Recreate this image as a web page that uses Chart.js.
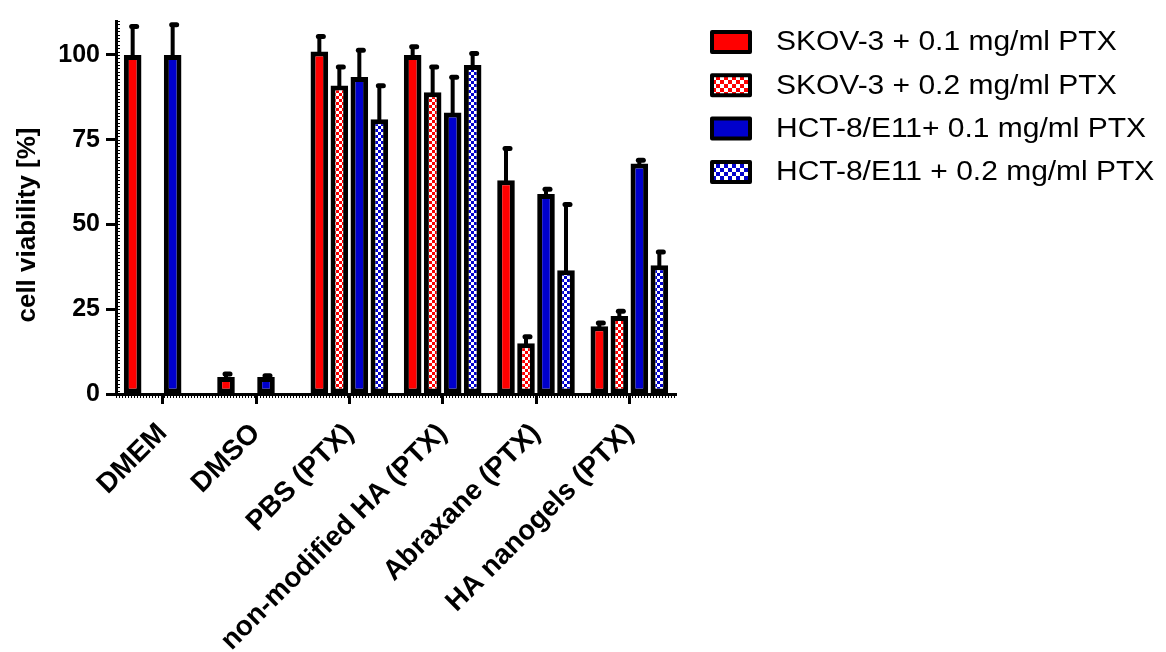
<!DOCTYPE html>
<html>
<head>
<meta charset="utf-8">
<title>Cell viability</title>
<script src="https://cdn.jsdelivr.net/npm/chart.js@4.4.0/dist/chart.umd.min.js"></script>
<style>
  html, body { margin: 0; padding: 0; background: #fff; }
  canvas { display: block; }
</style>
</head>
<body>
<canvas id="viabilityChart" width="1166" height="652"></canvas>
<script>
// data
const categories = ["DMEM", "DMSO", "PBS (PTX)", "non-modified HA (PTX)", "Abraxane (PTX)", "HA nanogels (PTX)"];
const seriesLabels = [
  "SKOV-3 + 0.1 mg/ml PTX",
  "SKOV-3 + 0.2 mg/ml PTX",
  "HCT-8/E11+ 0.1 mg/ml PTX",
  "HCT-8/E11 + 0.2 mg/ml PTX",
];
const skov01 = [100, 5, 101, 100, 63, 20];
const skov01Err = [9, 1.5, 5, 3, 10, 1.5];
const skov02 = [null, null, 91, 89, 15, 23];
const skov02Err = [null, null, 6, 8, 2.5, 2];
const hct01 = [100, 5, 93.5, 83, 59, 68];
const hct01Err = [9.5, 1, 8.5, 11, 2, 1.5];
const hct02 = [null, null, 81, 97, 36.5, 38];
const hct02Err = [null, null, 10.5, 4, 20, 4.5];
const yTicks = [0, 25, 50, 75, 100];
const yTitle = "cell viability [%]";

const FONT = 'Arial, "Liberation Sans", sans-serif';
const RED = "#ff0000";
const BLUE = "#0000cc";

const canvas = document.getElementById("viabilityChart");
const mainCtx = canvas.getContext("2d");

// checkerboard fill
function checker(color, cell) {
  const c = document.createElement("canvas");
  c.width = cell * 2;
  c.height = cell * 2;
  const g = c.getContext("2d");
  g.fillStyle = "#fff";
  g.fillRect(0, 0, cell * 2, cell * 2);
  g.fillStyle = color;
  g.fillRect(0, 0, cell, cell);
  g.fillRect(cell, cell, cell, cell);
  return mainCtx.createPattern(c, "repeat");
}

// upward error bars
const errorBars = {
  id: "errorBars",
  afterDatasetsDraw(chart) {
    const ctx = chart.ctx;
    const y = chart.scales.y;
    chart.data.datasets.forEach((ds, i) => {
      chart.getDatasetMeta(i).data.forEach((bar, j) => {
        const v = ds.data[j];
        const e = ds.errors[j];
        if (v == null || e == null) return;
        const top = y.getPixelForValue(v + e);
        ctx.save();
        ctx.strokeStyle = "#000";
        ctx.lineWidth = 4;
        ctx.beginPath();
        ctx.moveTo(bar.x, bar.y + 3);
        ctx.lineTo(bar.x, top + 2);
        ctx.stroke();
        ctx.lineWidth = 5;
        ctx.lineCap = "round";
        ctx.beginPath();
        ctx.moveTo(bar.x - 1, top + 2);
        ctx.lineTo(bar.x + 4, top + 2);
        ctx.stroke();
        ctx.restore();
      });
    });
  },
};

// minor ticks, y title and legend
const decor = {
  id: "decor",
  afterDraw(chart) {
    const ctx = chart.ctx;
    const area = chart.chartArea;
    const y = chart.scales.y;

    ctx.save();
    ctx.strokeStyle = "#000";
    ctx.lineWidth = 1;
    for (let v = 0; v <= 110; v++) {
      const py = Math.round(y.getPixelForValue(v)) + 0.5;
      ctx.beginPath();
      ctx.moveTo(area.left + 1, py);
      ctx.lineTo(area.left + 4, py);
      ctx.stroke();
    }
    ctx.lineWidth = 2;
    ctx.setLineDash([1, 2]);
    ctx.beginPath();
    ctx.moveTo(area.left, area.bottom + 3);
    ctx.lineTo(area.right, area.bottom + 3);
    ctx.stroke();
    ctx.restore();

    ctx.save();
    ctx.translate(28, 225);
    ctx.rotate(-Math.PI / 2);
    ctx.font = "bold 26px " + FONT;
    ctx.fillStyle = "#000";
    ctx.textAlign = "center";
    ctx.textBaseline = "middle";
    ctx.fillText(yTitle, 0, 0);
    ctx.restore();

    chart.data.datasets.forEach((ds, i) => {
      const cy = 42 + i * 43.3;
      ctx.save();
      ctx.fillStyle = ds.legendFill;
      ctx.fillRect(712, cy - 10, 38, 20);
      ctx.strokeStyle = "#000";
      ctx.lineWidth = 4;
      ctx.lineJoin = "round";
      ctx.strokeRect(712, cy - 10, 38, 20);
      ctx.translate(776, cy + 1);
      ctx.scale(1.11, 1);
      ctx.font = "27px " + FONT;
      ctx.fillStyle = "#000";
      ctx.textBaseline = "middle";
      ctx.fillText(ds.label, 0, 0);
      ctx.restore();
    });
  },
};

const bar = (label, data, errors, fill, legendFill) => ({
  label,
  data,
  errors,
  legendFill,
  backgroundColor: fill,
  borderColor: "#000",
  borderWidth: 5,
  borderSkipped: false,
  categoryPercentage: 0.857,
  barPercentage: 0.88,
});

new Chart(canvas, {
  type: "bar",
  data: {
    labels: categories,
    datasets: [
      bar(seriesLabels[0], skov01, skov01Err, RED, RED),
      bar(seriesLabels[1], skov02, skov02Err, checker(RED, 3), checker(RED, 4)),
      bar(seriesLabels[2], hct01, hct01Err, BLUE, BLUE),
      bar(seriesLabels[3], hct02, hct02Err, checker(BLUE, 3), checker(BLUE, 4)),
    ],
  },
  options: {
    responsive: false,
    animation: false,
    events: [],
    layout: { padding: { top: 17, right: 490, left: 0, bottom: 0 } },
    plugins: { legend: { display: false }, tooltip: { enabled: false } },
    scales: {
      x: {
        afterFit: (s) => { s.height = 652 - 394; },
        border: { display: true, color: "#000", width: 3 },
        grid: {
          offset: false,
          drawOnChartArea: false,
          tickLength: 10,
          tickWidth: 3,
          tickColor: "#000",
        },
        ticks: {
          autoSkip: false,
          minRotation: 45,
          maxRotation: 45,
          padding: 13,
          color: "#000",
          font: { family: FONT, size: 28, weight: "bold" },
        },
      },
      y: {
        min: 0,
        max: 110,
        afterBuildTicks: (s) => { s.ticks = yTicks.map((v) => ({ value: v })); },
        afterFit: (s) => { s.width = 116; },
        border: { display: true, color: "#000", width: 3 },
        grid: {
          drawOnChartArea: false,
          tickLength: 10,
          tickWidth: 3,
          tickColor: "#000",
        },
        ticks: {
          padding: 6,
          color: "#000",
          font: { family: FONT, size: 25, weight: "bold" },
        },
      },
    },
  },
  plugins: [errorBars, decor],
});
</script>
</body>
</html>
